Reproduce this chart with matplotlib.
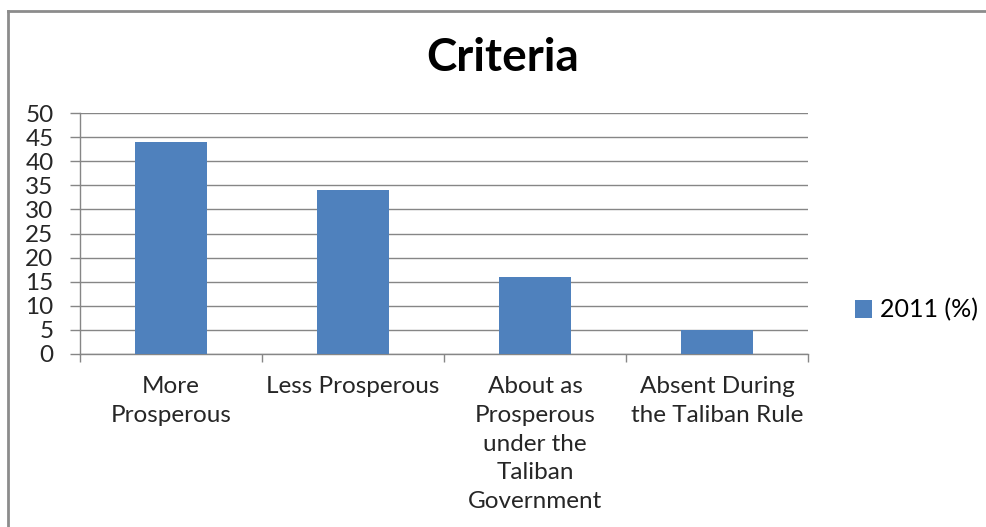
import matplotlib
matplotlib.use("Agg")
import matplotlib.pyplot as plt
from matplotlib.lines import Line2D

# Data
categories = ['More\nProsperous', 'Less Prosperous', 'About as\nProsperous\nunder the\nTaliban\nGovernment',
              'Absent During\nthe Taliban Rule']
values_2011 = [44, 34, 16, 5]
series_name = '2011 (%)'
yticks = [0, 5, 10, 15, 20, 25, 30, 35, 40, 45, 50]

plt.rcParams['font.family'] = ['Lato', 'DejaVu Sans']
label_size = 17.5

fig = plt.figure(figsize=(9.86, 5.27), dpi=100)
ax = fig.add_axes([80 / 986, 1 - 354 / 527, 728 / 986, 241 / 527])

positions = list(range(len(categories)))
bars = ax.bar(positions, values_2011, width=0.4, color='#4F81BD', label=series_name, zorder=3)

ax.set_xlim(-0.5, len(categories) - 0.5)
ax.set_ylim(0, 50)
ax.set_yticks(yticks)
ax.yaxis.grid(True, color='#868686', linewidth=1.0, zorder=0)

# category boundary ticks below the axis, labels centred on the bars
ax.set_xticks([p - 0.5 for p in positions] + [len(categories) - 0.5])
ax.set_xticklabels([])
ax.set_xticks(positions, minor=True)
ax.set_xticklabels(categories, minor=True, fontsize=label_size, color='#262626', linespacing=1.45)
ax.tick_params(axis='x', which='major', length=6, color='#868686', width=1.0)
ax.tick_params(axis='x', which='minor', length=0, pad=16)
ax.tick_params(axis='y', length=7, color='#868686', width=1.0, labelsize=label_size, labelcolor='#262626', pad=12)

for side in ['top', 'right']:
    ax.spines[side].set_visible(False)
for side in ['left', 'bottom']:
    ax.spines[side].set_color('#868686')
    ax.spines[side].set_linewidth(1.0)

fig.text(503 / 986, 1 - 58 / 527, 'Criteria', ha='center', va='center', fontsize=33, fontweight='bold')

fig.legend(handles=[bars], labels=[series_name], loc='center left', bbox_to_anchor=(842 / 986, 1 - 310 / 527),
           frameon=False, fontsize=18, handlelength=0.7, handleheight=0.7, handletextpad=0.3, borderpad=0)

# outer chart border (top and left visible in the reference)
fig.add_artist(Line2D([8 / 986, 8 / 986], [0, 1 - 11 / 527], transform=fig.transFigure, color='#8c8c8c', linewidth=2))
fig.add_artist(Line2D([8 / 986, 1], [1 - 11 / 527, 1 - 11 / 527], transform=fig.transFigure, color='#8c8c8c',
                      linewidth=2))

fig.savefig('out.png', dpi=100)
